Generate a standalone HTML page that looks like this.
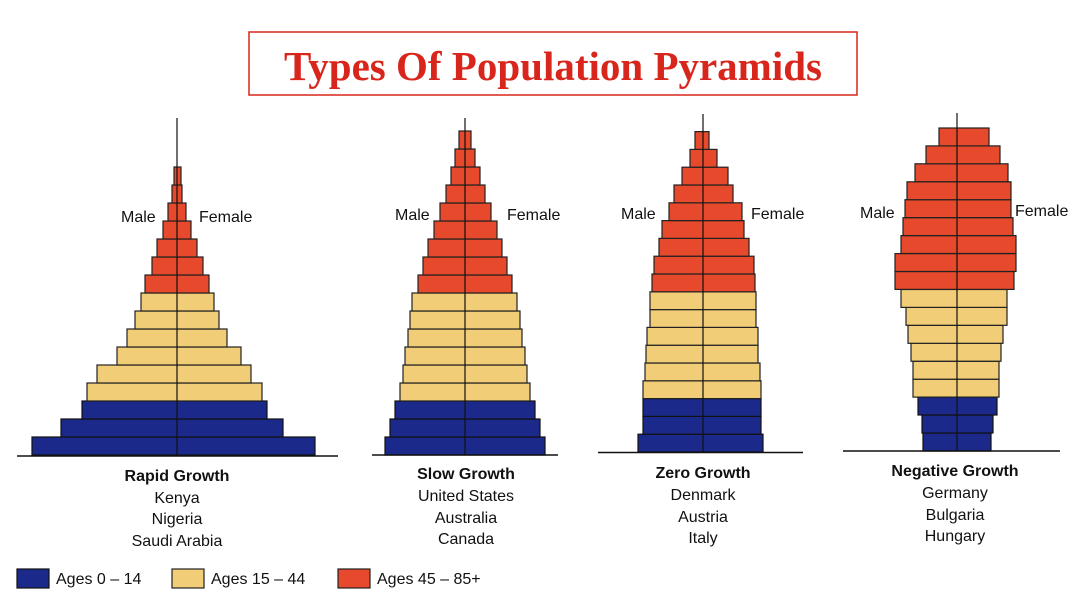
<!DOCTYPE html>
<html><head><meta charset="utf-8"><style>
html,body{margin:0;padding:0;background:#fff;}
svg{display:block;font-family:"Liberation Sans",Arial,sans-serif;}
.B{fill:#1b2a8a;stroke:#111;stroke-width:1.2}
.Y{fill:#f2cd78;stroke:#222;stroke-width:1.2}
.R{fill:#e6492b;stroke:#222;stroke-width:1.2}
.lab{font-size:16px;fill:#111}
.ttl{font-size:16px;font-weight:bold;fill:#111;text-anchor:middle}
.cty{font-size:16px;fill:#111;text-anchor:middle}
</style></head><body>
<svg width="1086" height="614" viewBox="0 0 1086 614">
<rect x="249" y="32" width="608" height="63" fill="#fff" stroke="#d9261c" stroke-width="1.5"/>
<text x="553" y="80" text-anchor="middle" font-family="Liberation Serif,serif" font-weight="bold" font-size="41" fill="#d9261c">Types Of Population Pyramids</text>

<!-- Pyramid 1 -->
<g>
<rect class="B" x="32" y="437" width="283" height="18"/>
<rect class="B" x="61" y="419" width="222" height="18"/>
<rect class="B" x="82" y="401" width="185" height="18"/>
<rect class="Y" x="87" y="383" width="175" height="18"/>
<rect class="Y" x="97" y="365" width="154" height="18"/>
<rect class="Y" x="117" y="347" width="124" height="18"/>
<rect class="Y" x="127" y="329" width="100" height="18"/>
<rect class="Y" x="135" y="311" width="84" height="18"/>
<rect class="Y" x="141" y="293" width="73" height="18"/>
<rect class="R" x="145" y="275" width="64" height="18"/>
<rect class="R" x="152" y="257" width="51" height="18"/>
<rect class="R" x="157" y="239" width="40" height="18"/>
<rect class="R" x="163" y="221" width="28" height="18"/>
<rect class="R" x="168" y="203" width="18" height="18"/>
<rect class="R" x="172" y="185" width="10" height="18"/>
<rect class="R" x="174" y="167" width="7" height="18"/>
<line x1="177" y1="118" x2="177" y2="455" stroke="#111" stroke-width="1.2"/>
<line x1="17" y1="456" x2="338" y2="456" stroke="#111" stroke-width="1.5"/>
<text class="lab" x="121" y="222">Male</text><text class="lab" x="199" y="222">Female</text>
<text class="ttl" x="177" y="481">Rapid Growth</text>
<text class="cty" x="177" y="503">Kenya</text><text class="cty" x="177" y="524">Nigeria</text><text class="cty" x="177" y="546">Saudi Arabia</text>
</g>

<!-- Pyramid 2 -->
<g>
<rect class="B" x="385" y="437" width="160" height="18"/>
<rect class="B" x="390" y="419" width="150" height="18"/>
<rect class="B" x="395" y="401" width="140" height="18"/>
<rect class="Y" x="400" y="383" width="130" height="18"/>
<rect class="Y" x="403" y="365" width="124" height="18"/>
<rect class="Y" x="405" y="347" width="120" height="18"/>
<rect class="Y" x="408" y="329" width="114" height="18"/>
<rect class="Y" x="410" y="311" width="110" height="18"/>
<rect class="Y" x="412" y="293" width="105" height="18"/>
<rect class="R" x="418" y="275" width="94" height="18"/>
<rect class="R" x="423" y="257" width="84" height="18"/>
<rect class="R" x="428" y="239" width="74" height="18"/>
<rect class="R" x="434" y="221" width="63" height="18"/>
<rect class="R" x="440" y="203" width="51" height="18"/>
<rect class="R" x="446" y="185" width="39" height="18"/>
<rect class="R" x="451" y="167" width="29" height="18"/>
<rect class="R" x="455" y="149" width="20" height="18"/>
<rect class="R" x="459" y="131" width="12" height="18"/>
<line x1="465" y1="118" x2="465" y2="455" stroke="#111" stroke-width="1.2"/>
<line x1="372" y1="455" x2="558" y2="455" stroke="#111" stroke-width="1.5"/>
<text class="lab" x="395" y="220">Male</text><text class="lab" x="507" y="220">Female</text>
<text class="ttl" x="466" y="479">Slow Growth</text>
<text class="cty" x="466" y="501">United States</text><text class="cty" x="466" y="523">Australia</text><text class="cty" x="466" y="544">Canada</text>
</g>

<!-- Pyramid 3 -->
<g>
<rect class="B" x="638" y="434.2" width="125" height="17.8"/>
<rect class="B" x="643" y="416.4" width="118" height="17.8"/>
<rect class="B" x="643" y="398.6" width="118" height="17.8"/>
<rect class="Y" x="643" y="380.8" width="118" height="17.8"/>
<rect class="Y" x="645" y="363" width="115" height="17.8"/>
<rect class="Y" x="646" y="345.2" width="112" height="17.8"/>
<rect class="Y" x="647" y="327.4" width="111" height="17.8"/>
<rect class="Y" x="650" y="309.6" width="106" height="17.8"/>
<rect class="Y" x="650" y="291.8" width="106" height="17.8"/>
<rect class="R" x="652" y="274" width="103" height="17.8"/>
<rect class="R" x="654" y="256.2" width="100" height="17.8"/>
<rect class="R" x="659" y="238.4" width="90" height="17.8"/>
<rect class="R" x="662" y="220.6" width="82" height="17.8"/>
<rect class="R" x="669" y="202.8" width="73" height="17.8"/>
<rect class="R" x="674" y="185" width="59" height="17.8"/>
<rect class="R" x="682" y="167.2" width="46" height="17.8"/>
<rect class="R" x="690" y="149.4" width="27" height="17.8"/>
<rect class="R" x="695" y="131.6" width="14" height="17.8"/>
<line x1="703" y1="114" x2="703" y2="452" stroke="#111" stroke-width="1.2"/>
<line x1="598" y1="452.5" x2="803" y2="452.5" stroke="#111" stroke-width="1.5"/>
<text class="lab" x="621" y="219">Male</text><text class="lab" x="751" y="219">Female</text>
<text class="ttl" x="703" y="478">Zero Growth</text>
<text class="cty" x="703" y="500">Denmark</text><text class="cty" x="703" y="522">Austria</text><text class="cty" x="703" y="543">Italy</text>
</g>

<!-- Pyramid 4 -->
<g>
<rect class="B" x="923" y="433" width="68" height="18"/>
<rect class="B" x="922" y="415" width="71" height="18"/>
<rect class="B" x="918" y="397" width="79" height="18"/>
<rect class="Y" x="913" y="379.2" width="86" height="17.9"/>
<rect class="Y" x="913" y="361.3" width="86" height="17.9"/>
<rect class="Y" x="911" y="343.3" width="90" height="17.9"/>
<rect class="Y" x="908" y="325.4" width="95" height="17.9"/>
<rect class="Y" x="906" y="307.4" width="101" height="17.9"/>
<rect class="Y" x="901" y="289.5" width="106" height="17.9"/>
<rect class="R" x="895" y="271.5" width="119" height="17.9"/>
<rect class="R" x="895" y="253.6" width="121" height="17.9"/>
<rect class="R" x="901" y="235.6" width="115" height="17.9"/>
<rect class="R" x="903" y="217.7" width="110" height="17.9"/>
<rect class="R" x="905" y="199.7" width="106" height="17.9"/>
<rect class="R" x="907" y="181.8" width="104" height="17.9"/>
<rect class="R" x="915" y="163.8" width="93" height="17.9"/>
<rect class="R" x="926" y="145.9" width="74" height="17.9"/>
<rect class="R" x="939" y="128" width="50" height="17.9"/>
<line x1="957" y1="113" x2="957" y2="451" stroke="#111" stroke-width="1.2"/>
<line x1="843" y1="451" x2="1060" y2="451" stroke="#111" stroke-width="1.5"/>
<text class="lab" x="860" y="218">Male</text><text class="lab" x="1015" y="216">Female</text>
<text class="ttl" x="955" y="476">Negative Growth</text>
<text class="cty" x="955" y="498">Germany</text><text class="cty" x="955" y="520">Bulgaria</text><text class="cty" x="955" y="541">Hungary</text>
</g>

<!-- Legend -->
<rect class="B" x="17" y="569" width="32" height="19"/>
<text class="lab" x="56" y="584">Ages 0 – 14</text>
<rect class="Y" x="172" y="569" width="32" height="19"/>
<text class="lab" x="211" y="584">Ages 15 – 44</text>
<rect class="R" x="338" y="569" width="32" height="19"/>
<text class="lab" x="377" y="584">Ages 45 – 85+</text>
</svg>
</body></html>
